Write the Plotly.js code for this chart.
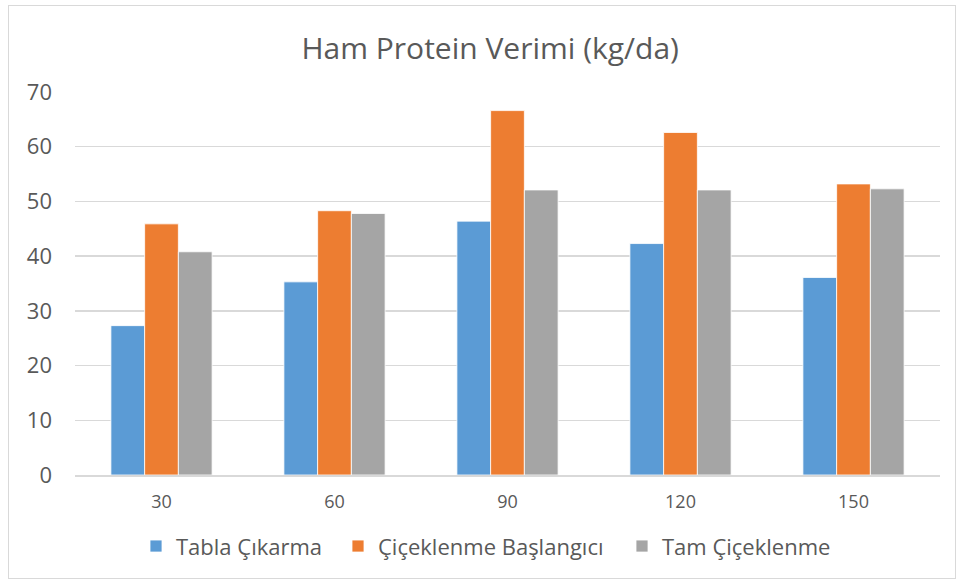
<!DOCTYPE html>
<html><head><meta charset="utf-8">
<script src="https://cdn.plot.ly/plotly-3.0.1.min.js"></script>
<style>body{margin:0;background:#fff}#c{width:958px;height:580px}#f{position:absolute;left:8px;top:5px;width:946px;height:572px;border:1px solid #D9D9D9;pointer-events:none}</style>
</head><body>
<div id="c"></div><div id="f"></div>
<script>
const categories = ["30","60","90","120","150"];
const seriesNames = ["Tabla Çıkarma","Çiçeklenme Başlangıcı","Tam Çiçeklenme"];
const tablaCikarma = [27.3, 35.3, 46.4, 42.3, 36.1];
const ciceklenmeBaslangici = [45.9, 48.3, 66.6, 62.6, 53.2];
const tamCiceklenme = [40.8, 47.8, 52.1, 52.1, 52.3];
const colors = ["#5B9BD5","#ED7D31","#A5A5A5"];
const font = "'Open Sans', sans-serif";
const vals = [tablaCikarma, ciceklenmeBaslangici, tamCiceklenme];
const legendIds = ['legend','legend2','legend3'];
const data = vals.map((v,i)=>({type:'bar', x:categories, y:v, name:seriesNames[i], legend:legendIds[i],
  marker:{color:colors[i], line:{color:'#ffffff', width:0.8}}, hoverinfo:'y'}));
const L = 75, W = 865;
const legendPx = [136, 338, 622];
const legBase = {orientation:'h', xanchor:'left', y:-0.186, yanchor:'middle', bgcolor:'rgba(0,0,0,0)',
  font:{family:font, size:22, color:'#595959'}, itemwidth:30};
const layout = {
  width:958, height:580,
  margin:{l:75, r:18, t:92, b:105},
  paper_bgcolor:'#fff', plot_bgcolor:'#fff',
  title:{text:'Ham Protein Verimi (kg/da)', x:0.48, xref:'paper', xanchor:'center', y:0.916, yanchor:'middle',
    font:{family:font, size:30, color:'#595959'}},
  bargap:0.415, bargroupgap:0,
  xaxis:{type:'category', showgrid:false, zeroline:false, showline:true, linecolor:'#D9D9D9', linewidth:1.5,
    ticks:'', ticklabelstandoff:10, tickfont:{family:font, size:18, color:'#595959'}},
  yaxis:{range:[0,70], dtick:10, showgrid:true, gridcolor:'#D9D9D9', gridwidth:1.5, zeroline:false,
    showline:false, ticks:'', ticklabelstandoff:22, tickfont:{family:font, size:22, color:'#595959'}},
  showlegend:true
};
legendIds.forEach((id,i)=>{ layout[id] = Object.assign({}, legBase, {x:(legendPx[i]-L)/W}); });
Plotly.newPlot('c', data, layout, {displayModeBar:false, staticPlot:true});
</script>
</body></html>
